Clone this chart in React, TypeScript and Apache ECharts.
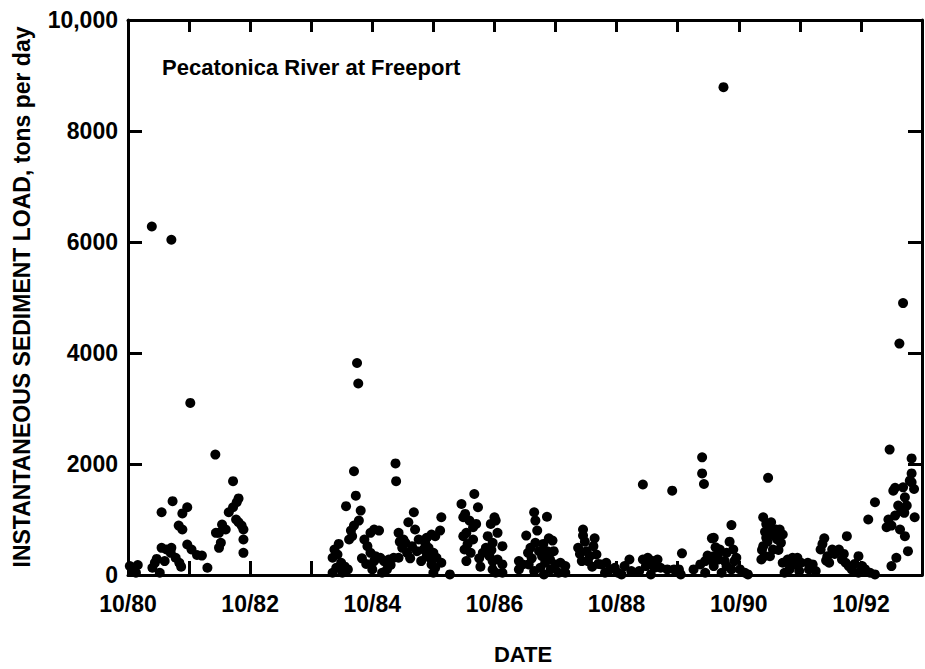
import React, { useEffect, useRef } from "react";
import * as echarts from "echarts";

// Instantaneous sediment load (tons per day) by date (decimal year), Pecatonica River at Freeport
const wy1981 = [
  [1980.78, 160], [1980.82, 90], [1980.88, 40], [1980.91, 180], [1981.14, 6280], [1981.15, 130],
  [1981.19, 220], [1981.22, 290], [1981.27, 40], [1981.3, 1130], [1981.3, 490], [1981.35, 250],
  [1981.38, 460], [1981.45, 400], [1981.46, 490], [1981.46, 6040], [1981.48, 1330], [1981.53, 310],
  [1981.58, 890], [1981.59, 220], [1981.62, 150], [1981.64, 820], [1981.64, 1110], [1981.72, 1220],
  [1981.72, 550],
];
const wy1982 = [
  [1981.77, 3100], [1981.79, 460], [1981.88, 360], [1981.96, 350], [1982.05, 130], [1982.18, 2170],
  [1982.19, 760], [1982.24, 760], [1982.24, 490], [1982.27, 580], [1982.29, 910], [1982.35, 820],
  [1982.4, 1130], [1982.47, 1220], [1982.47, 1690], [1982.52, 1000], [1982.53, 1310], [1982.56, 1380],
  [1982.56, 950], [1982.61, 890], [1982.64, 820], [1982.64, 640], [1982.64, 400],
];
const wy1984 = [
  [1984.1, 310], [1984.1, 40], [1984.13, 460], [1984.16, 130], [1984.18, 370], [1984.2, 560],
  [1984.24, 220], [1984.26, 40], [1984.3, 150], [1984.32, 1240], [1984.35, 100], [1984.37, 640],
  [1984.4, 800], [1984.42, 700], [1984.45, 1870], [1984.45, 890], [1984.48, 1430], [1984.5, 3820],
  [1984.52, 3450], [1984.53, 980], [1984.56, 1160], [1984.58, 300], [1984.62, 640], [1984.65, 200],
  [1984.67, 520], [1984.72, 760], [1984.72, 400], [1984.75, 100],
];
const wy1985 = [
  [1984.78, 820], [1984.78, 250], [1984.8, 340], [1984.86, 800], [1984.88, 310], [1984.91, 40],
  [1984.94, 250], [1984.99, 100], [1985.02, 280], [1985.05, 180], [1985.1, 310], [1985.13, 2010],
  [1985.14, 1690], [1985.18, 310], [1985.18, 760], [1985.2, 600], [1985.24, 490], [1985.26, 640],
  [1985.29, 580], [1985.32, 400], [1985.34, 950], [1985.37, 300], [1985.4, 520], [1985.43, 1130],
  [1985.45, 820], [1985.48, 430], [1985.51, 640], [1985.55, 250], [1985.59, 460], [1985.62, 560],
  [1985.64, 670], [1985.64, 340], [1985.67, 490], [1985.7, 300], [1985.72, 730], [1985.72, 190],
  [1985.75, 400], [1985.75, 40],
];
const wy1986 = [
  [1985.78, 700], [1985.78, 130], [1985.8, 310], [1985.86, 800], [1985.88, 1040], [1985.88, 220],
  [1986.02, 10], [1986.21, 1280], [1986.24, 1040], [1986.24, 700], [1986.26, 460], [1986.27, 1100],
  [1986.29, 760], [1986.29, 250], [1986.31, 560], [1986.34, 980], [1986.36, 400], [1986.4, 860],
  [1986.4, 640], [1986.42, 1460], [1986.45, 920], [1986.48, 1220], [1986.5, 300], [1986.52, 150],
  [1986.56, 400], [1986.61, 490], [1986.64, 700], [1986.67, 340], [1986.69, 920], [1986.7, 450],
  [1986.72, 580], [1986.72, 250], [1986.72, 100],
];
const wy1987 = [
  [1986.75, 1040], [1986.77, 980], [1986.77, 40], [1986.8, 760], [1986.8, 280], [1986.88, 520],
  [1986.88, 190], [1986.88, 40], [1987.15, 100], [1987.15, 250], [1987.21, 190], [1987.27, 710],
  [1987.3, 400], [1987.31, 190], [1987.34, 490], [1987.36, 300], [1987.4, 1130], [1987.4, 70],
  [1987.42, 980], [1987.42, 580], [1987.45, 800], [1987.48, 430], [1987.5, 130], [1987.53, 340],
  [1987.55, 560], [1987.56, 10], [1987.58, 220], [1987.61, 1050], [1987.61, 430], [1987.64, 660],
  [1987.66, 280], [1987.67, 100], [1987.7, 620], [1987.72, 430], [1987.75, 190],
];
const wy1988 = [
  [1987.8, 40], [1987.83, 220], [1987.91, 160], [1987.91, 40], [1988.12, 490], [1988.15, 380],
  [1988.18, 250], [1988.2, 820], [1988.2, 710], [1988.23, 600], [1988.26, 430], [1988.28, 250],
  [1988.31, 340], [1988.35, 150], [1988.37, 520], [1988.39, 660], [1988.42, 370], [1988.45, 200],
  [1988.5, 190], [1988.56, 40], [1988.58, 220], [1988.64, 100], [1988.72, 130],
];
const wy1989 = [
  [1988.77, 40], [1988.83, 10], [1988.88, 160], [1988.96, 280], [1988.99, 70], [1989.12, 70],
  [1989.18, 1630], [1989.18, 280], [1989.23, 160], [1989.26, 310], [1989.31, 10], [1989.34, 250],
  [1989.37, 130], [1989.42, 280], [1989.47, 130], [1989.58, 100], [1989.66, 1520], [1989.69, 100],
];
const wy1990 = [
  [1989.77, 100], [1989.8, 10], [1989.82, 390], [1990.01, 100], [1990.12, 190], [1990.15, 2120],
  [1990.15, 1830], [1990.18, 1640], [1990.2, 250], [1990.2, 40], [1990.24, 350], [1990.28, 280],
  [1990.31, 660], [1990.34, 340], [1990.34, 670], [1990.34, 160], [1990.37, 500], [1990.42, 400],
  [1990.42, 280], [1990.44, 460], [1990.47, 40], [1990.5, 8790], [1990.52, 250], [1990.55, 400],
  [1990.55, 160], [1990.6, 600], [1990.63, 900], [1990.63, 100], [1990.66, 460], [1990.68, 250],
  [1990.71, 310],
];
const wy1991 = [
  [1990.77, 100], [1990.85, 40], [1990.9, 10], [1991.12, 280], [1991.13, 450], [1991.15, 1040],
  [1991.15, 520], [1991.17, 340], [1991.18, 780], [1991.2, 920], [1991.2, 670], [1991.22, 600],
  [1991.23, 1750], [1991.26, 800], [1991.26, 340], [1991.28, 950], [1991.31, 460], [1991.34, 700],
  [1991.36, 820], [1991.38, 640], [1991.4, 450], [1991.42, 820], [1991.44, 580], [1991.47, 730],
  [1991.47, 220], [1991.5, 40], [1991.55, 280], [1991.58, 100], [1991.6, 180], [1991.63, 310],
  [1991.66, 190], [1991.71, 310],
];
const wy1992 = [
  [1991.74, 70], [1991.77, 220], [1991.88, 220], [1991.9, 100], [1991.96, 190], [1992.01, 70],
  [1992.09, 460], [1992.12, 560], [1992.15, 660], [1992.18, 260], [1992.2, 340], [1992.23, 220],
  [1992.28, 460], [1992.32, 380], [1992.39, 460], [1992.44, 280], [1992.47, 380], [1992.5, 220],
  [1992.52, 700], [1992.55, 160], [1992.6, 100], [1992.65, 200], [1992.71, 340], [1992.71, 40],
];
const wy1993 = [
  [1992.77, 160], [1992.82, 100], [1992.87, 1000], [1992.9, 40], [1992.98, 10], [1992.98, 1310],
  [1993.17, 860], [1993.2, 1000], [1993.22, 2260], [1993.25, 890], [1993.25, 160], [1993.28, 1520],
  [1993.31, 1070], [1993.31, 1570], [1993.33, 310], [1993.36, 1250], [1993.38, 4170], [1993.39, 820],
  [1993.41, 1150], [1993.44, 4900], [1993.44, 1580], [1993.46, 1120], [1993.47, 1400], [1993.47, 700],
  [1993.5, 1250], [1993.52, 430], [1993.55, 1700], [1993.58, 2100], [1993.58, 1830], [1993.58, 1670],
  [1993.62, 1550], [1993.63, 1040],
];

const START_YEAR = 1980.75; // 10/80
const YEARS_SHOWN = 13;
const Y_MAX = 10000;
const Y_STEP = 2000;
const TITLE = "Pecatonica River at Freeport";
const Y_NAME = "INSTANTANEOUS SEDIMENT LOAD, tons per day";
const X_NAME = "DATE";

const FONT = "'Liberation Sans', Arial, Helvetica, sans-serif";

export default function App() {
  const ref = useRef<HTMLDivElement>(null);
  useEffect(() => {
    document.body.style.margin = "0";
    const chart = echarts.init(ref.current as HTMLDivElement, null, { renderer: "svg" });
    const all = [
      ...wy1981, ...wy1982, ...wy1984, ...wy1985, ...wy1986, ...wy1987,
      ...wy1988, ...wy1989, ...wy1990, ...wy1991, ...wy1992, ...wy1993,
    ].map(([yr, v]) => [Math.round((yr - START_YEAR) * 1000) / 1000, v]);

    const line = { show: true, onZero: false, lineStyle: { color: "#000", width: 3 } };
    const tick = (len: number) => ({ show: true, inside: true, length: len, lineStyle: { color: "#000", width: 3 } });
    const label = { fontSize: 23, fontWeight: "bold", color: "#000", fontFamily: FONT };

    chart.setOption({
      animation: false,
      backgroundColor: "#fff",
      grid: { left: 128, top: 20, width: 803, height: 555 },
      xAxis: [
        {
          type: "value", position: "bottom", min: 0, max: YEARS_SHOWN, interval: 1,
          axisLine: line, axisTick: tick(14), splitLine: { show: false },
          axisLabel: {
            ...label, margin: 17,
            formatter: (v: number) => (v % 2 === 0 ? `10/${80 + v}` : ""),
          },
        },
        {
          type: "value", position: "top", min: 0, max: YEARS_SHOWN, interval: 1,
          axisLine: line, axisTick: tick(12), splitLine: { show: false }, axisLabel: { show: false },
        },
      ],
      yAxis: [
        {
          type: "value", position: "left", min: 0, max: Y_MAX, interval: Y_STEP,
          axisLine: line, axisTick: tick(14), splitLine: { show: false },
          axisLabel: {
            ...label, margin: 10,
            formatter: (v: number) => (v === 10000 ? "10,000" : String(v)),
          },
        },
        {
          type: "value", position: "right", min: 0, max: Y_MAX, interval: Y_STEP,
          axisLine: line, axisTick: tick(14), splitLine: { show: false }, axisLabel: { show: false },
        },
      ],
      series: [
        {
          type: "scatter", xAxisIndex: 0, yAxisIndex: 0, data: all,
          symbol: "circle", symbolSize: 10, itemStyle: { color: "#000", opacity: 1 },
        },
      ],
      graphic: [
        {
          type: "text", x: 22, y: 297, rotation: Math.PI / 2,
          style: { text: Y_NAME, fill: "#000", fontSize: 23, fontWeight: "bold", fontFamily: FONT, align: "center", verticalAlign: "middle" },
        },
        {
          type: "text", x: 162, y: 67,
          style: { text: TITLE, fill: "#000", fontSize: 22, fontWeight: "bold", fontFamily: FONT, align: "left", verticalAlign: "middle" },
        },
        {
          type: "text", x: 523, y: 654,
          style: { text: X_NAME, fill: "#000", fontSize: 22, fontWeight: "bold", fontFamily: FONT, align: "center", verticalAlign: "middle" },
        },
      ],
    });
    return () => chart.dispose();
  }, []);
  return (
    <div
      ref={ref}
      style={{ position: "absolute", left: 0, top: 0, width: 925, height: 669, overflow: "hidden" }}
    />
  );
}
